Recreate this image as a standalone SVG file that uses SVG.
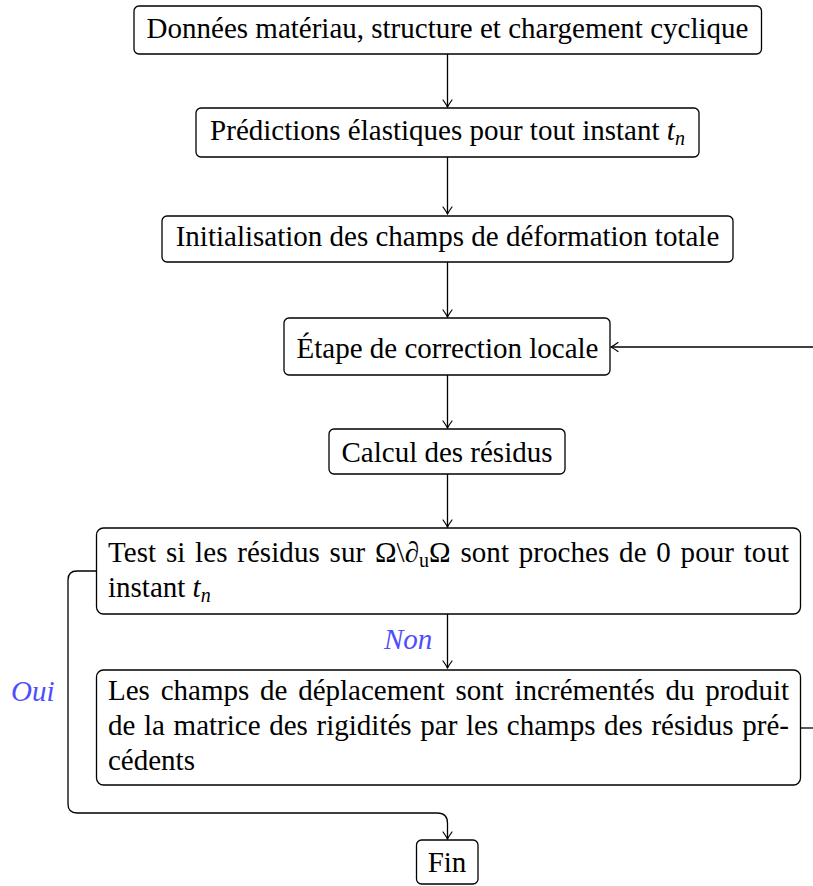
<svg xmlns="http://www.w3.org/2000/svg" width="813" height="886" viewBox="0 0 813 886">
<style>
  .box { fill: #fff; stroke: #000; stroke-width: 1.3; }
  .t { font-family: "Liberation Serif", "Times New Roman", serif; font-size: 29px; fill: #000; }
  .c { text-anchor: middle; }
  .i { font-style: italic; }
  .lbl { font-family: "Liberation Serif", "Times New Roman", serif; font-size: 29px; font-style: italic; fill: #4d4dff; }
  .edge { fill: none; stroke: #000; stroke-width: 1.3; }
</style>
<defs>
  <marker id="arr" markerWidth="12" markerHeight="12" refX="10" refY="6" orient="auto" markerUnits="userSpaceOnUse">
    <path d="M3,1.5 Q7,4.5 10,6 Q7,7.5 3,10.5" fill="none" stroke="#000" stroke-width="1.2" stroke-linecap="round"/>
  </marker>
</defs>

<g id="edges">
  <path class="edge" d="M447.5,54 V107" marker-end="url(#arr)"/>
  <path class="edge" d="M447.5,157 V214" marker-end="url(#arr)"/>
  <path class="edge" d="M447.5,262 V317" marker-end="url(#arr)"/>
  <path class="edge" d="M447.5,375 V428" marker-end="url(#arr)"/>
  <path class="edge" d="M447.5,474 V527" marker-end="url(#arr)"/>
  <path class="edge" d="M447.5,614 V668" marker-end="url(#arr)"/>
  <path class="edge" d="M96.5,571 H77 Q68,571 68,580 V804 Q68,813 77,813 H437 Q447.5,813 447.5,823 V839" marker-end="url(#arr)"/>
  <path class="edge" d="M800.5,728 H830"/>
  <path class="edge" d="M830,347 H611" marker-end="url(#arr)"/>
  <text class="lbl" x="384" y="649">Non</text>
  <text class="lbl" x="11" y="701">Oui</text>
</g>

<g id="n1">
  <rect class="box" x="134" y="6" width="627.5" height="48" rx="5"/>
  <text class="t c" x="447.5" y="38">Données matériau, structure et chargement cyclique</text>
</g>
<g id="n2">
  <rect class="box" x="196" y="108" width="503" height="49" rx="5"/>
  <text class="t c" x="447.5" y="140">Prédictions élastiques pour tout instant <tspan class="i">t</tspan><tspan class="i" font-size="20" dy="5">n</tspan></text>
</g>
<g id="n3">
  <rect class="box" x="162" y="216" width="571" height="46" rx="5"/>
  <text class="t c" x="447.5" y="246">Initialisation des champs de déformation totale</text>
</g>
<g id="n4">
  <rect class="box" x="284" y="318" width="326" height="57" rx="5"/>
  <text class="t c" x="447.5" y="358">Étape de correction locale</text>
</g>
<g id="n5">
  <rect class="box" x="329" y="429" width="236" height="45" rx="5"/>
  <text class="t c" x="447" y="462">Calcul des résidus</text>
</g>
<g id="n6">
  <rect class="box" x="96.5" y="528" width="704" height="86" rx="7"/>
  <text class="t" x="108" y="562" word-spacing="2.4" textLength="681" lengthAdjust="spacing">Test si les résidus sur Ω\<tspan class="i">∂</tspan><tspan font-size="20" dy="5">u</tspan><tspan dy="-5">Ω</tspan> sont proches de 0 pour tout</text>
  <text class="t" x="108" y="597">instant <tspan class="i">t</tspan><tspan class="i" font-size="20" dy="5">n</tspan></text>
</g>
<g id="n7">
  <rect class="box" x="96.5" y="670" width="704" height="115" rx="7"/>
  <text class="t" x="108" y="700" word-spacing="3.5" textLength="681" lengthAdjust="spacing">Les champs de déplacement sont incrémentés du produit</text>
  <text class="t" x="108" y="735" word-spacing="1.4" textLength="681" lengthAdjust="spacing">de la matrice des rigidités par les champs des résidus pré-</text>
  <text class="t" x="108" y="770">cédents</text>
</g>
<g id="n8">
  <rect class="box" x="416.5" y="840" width="61.5" height="44" rx="5"/>
  <text class="t c" x="447" y="872">Fin</text>
</g>
</svg>
